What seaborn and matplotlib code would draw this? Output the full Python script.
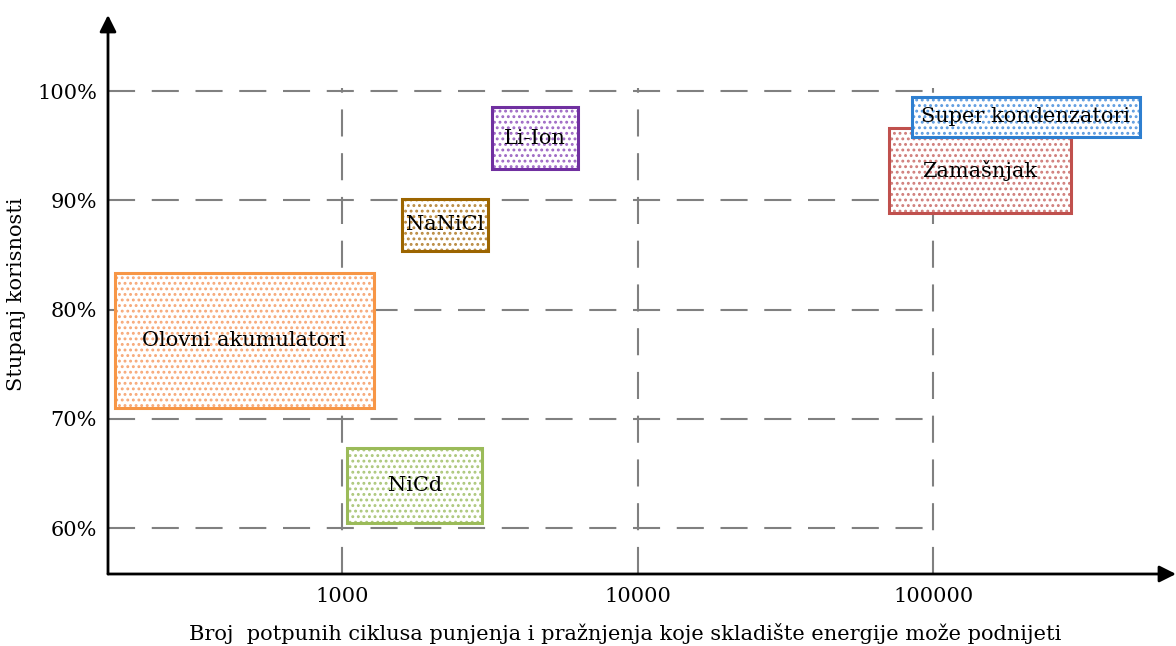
import matplotlib
matplotlib.use("Agg")
import matplotlib.pyplot as plt
import matplotlib.patches as mpatches
import seaborn as sns
import numpy as np

# storage technologies: cycle range (x, log) and efficiency range (%)
tech = ["Olovni akumulatori", "NiCd", "NaNiCl", "Li-Ion", "Zamašnjak", "Super kondenzatori"]
cyc_lo = [170, 1040, 1590, 3220, 71000, 85000]
cyc_hi = [1280, 2980, 3120, 6300, 293000, 500000]
eff_lo = [71.0, 60.5, 85.4, 92.9, 88.8, 95.8]
eff_hi = [83.3, 67.3, 90.1, 98.5, 96.6, 99.45]
edge_cols = ["#F79646", "#9BBB59", "#9C6500", "#7030A0", "#C0504D", "#2E7FD0"]
dot_cols = ["#F7A877", "#ACC77A", "#B98A40", "#9E68C4", "#D07C79", "#5C9BE0"]

x_ticks = [1000, 10000, 100000]
x_ticklabels = ["1000", "10000", "100000"]
y_ticks = [60, 70, 80, 90, 100]
y_ticklabels = ["60%", "70%", "80%", "90%", "100%"]


def main():
	sns.set_theme(style="white")
	plt.rcParams['font.family'] = ['DejaVu Serif']
	plt.rcParams['hatch.linewidth'] = 1.3
	plt.rcParams['text.color'] = 'black'
	plt.rcParams['xtick.color'] = 'black'
	plt.rcParams['ytick.color'] = 'black'
	plt.rcParams['axes.labelcolor'] = 'black'

	fig = plt.figure(figsize=(11.76, 6.46), dpi=100)
	ax = fig.add_axes([108 / 1176, 72 / 646, 1068 / 1176, 559 / 646])
	ax.set_xscale("log")
	ax.set_xlim(10 ** 2.208, 10 ** 5.822)
	ax.set_ylim(55.79, 106.96)

	for s in ax.spines.values():
		s.set_visible(False)

	# bounded dashed grid
	gx_max = 10 ** 5.012
	for y in y_ticks:
		ax.plot([10 ** 2.208, gx_max], [y, y], color="#808080", lw=1.5, dashes=(13, 8), zorder=1)
	for x in x_ticks:
		ax.plot([x, x], [55.79, 100.3], color="#808080", lw=1.5, dashes=(13, 8), zorder=1)

	# boxes
	for i, name in enumerate(tech):
		w = cyc_hi[i] - cyc_lo[i]
		h = eff_hi[i] - eff_lo[i]
		ax.add_patch(mpatches.Rectangle((cyc_lo[i], eff_lo[i]), w, h, facecolor="white",
			edgecolor=dot_cols[i], hatch="...", lw=0, zorder=3 + i))
		ax.add_patch(mpatches.Rectangle((cyc_lo[i], eff_lo[i]), w, h, fill=False,
			edgecolor=edge_cols[i], lw=2.2, zorder=3 + i))
		cx = np.sqrt(cyc_lo[i] * cyc_hi[i])
		cy = (eff_lo[i] + eff_hi[i]) / 2
		ax.text(cx, cy, name, ha="center", va="center", fontsize=15, color="black", zorder=3 + i)

	# axes with arrows
	ax.annotate("", xy=(1.0, 0), xytext=(0, 0), xycoords="axes fraction",
		arrowprops=dict(arrowstyle="-|>", color="black", lw=2, mutation_scale=25, shrinkA=0, shrinkB=0))
	ax.annotate("", xy=(0, 1.0), xytext=(0, 0), xycoords="axes fraction",
		arrowprops=dict(arrowstyle="-|>", color="black", lw=2, mutation_scale=25, shrinkA=0, shrinkB=0))

	ax.set_xticks(x_ticks)
	ax.set_xticklabels(x_ticklabels, fontsize=15)
	ax.set_yticks(y_ticks)
	ax.set_yticklabels(y_ticklabels, fontsize=15)
	ax.minorticks_off()
	ax.tick_params(axis="x", length=0, pad=9)
	ax.tick_params(axis="y", length=0, pad=8)

	ax.set_xlabel("Broj  potpunih ciklusa punjenja i pražnjenja koje skladište energije može podnijeti",
		fontsize=15)
	ax.xaxis.set_label_coords(0.484, -0.087)
	ax.set_ylabel("Stupanj korisnosti", fontsize=15, labelpad=8)

	fig.savefig("out.png", dpi=100)


if __name__ == '__main__':
	main()
